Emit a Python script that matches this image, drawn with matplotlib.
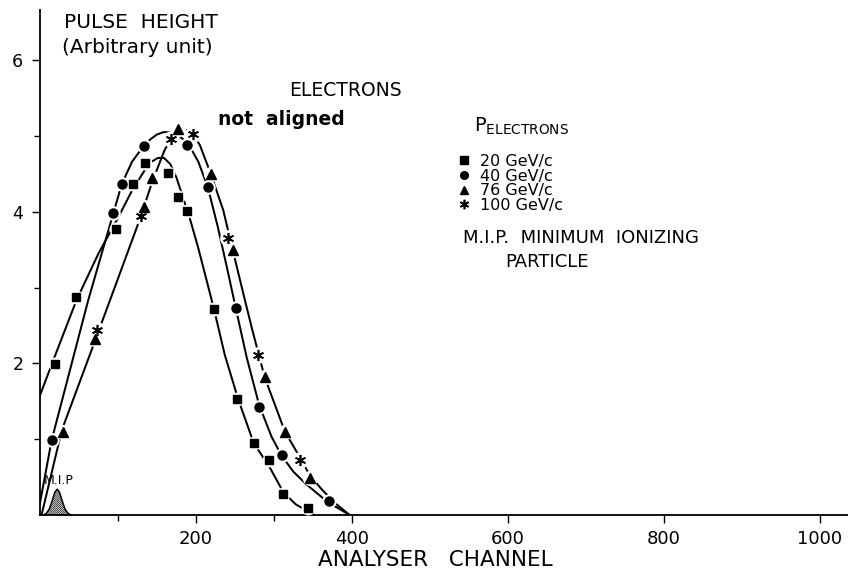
import matplotlib
matplotlib.use("Agg")
import matplotlib.pyplot as plt

# ---------------- data ----------------
# measured points
x_20 = [19, 46, 98, 119, 135, 164, 177, 188, 223, 253, 274, 294, 312, 343]
y_20 = [1.99, 2.88, 3.77, 4.37, 4.64, 4.51, 4.20, 4.01, 2.72, 1.53, 0.95, 0.72, 0.28, 0.09]

x_40 = [15, 94, 105, 133, 189, 215, 251, 281, 310, 370]
y_40 = [0.99, 3.98, 4.37, 4.87, 4.88, 4.33, 2.73, 1.43, 0.79, 0.18]

x_76 = [30, 71, 133, 143, 177, 219, 247, 288, 314, 346]
y_76 = [1.09, 2.32, 4.06, 4.44, 5.09, 4.50, 3.50, 1.82, 1.10, 0.49]

x_100 = [73, 129, 168, 196, 241, 280, 334]
y_100 = [2.44, 3.94, 4.96, 5.02, 3.65, 2.11, 0.73]

# hand-drawn curves (traced)
curve_20_x = [0, 20, 47, 75, 99, 119, 135, 143, 151, 159, 167, 175, 183, 193, 203, 213,
              223, 237, 254, 274, 295, 312, 328, 343, 352]
curve_20_y = [1.58, 2.12, 2.84, 3.45, 3.90, 4.30, 4.56, 4.66, 4.71, 4.71, 4.63, 4.45, 4.20,
              3.88, 3.52, 3.12, 2.72, 2.11, 1.53, 0.95, 0.62, 0.30, 0.14, 0.05, 0.0]

curve_40_x = [0, 15, 62, 94, 105, 118, 133, 142, 150, 158, 166, 174, 182, 190, 203, 215,
              228, 240, 251, 265, 281, 297, 310, 325, 342, 369, 397]
curve_40_y = [0.16, 0.99, 2.84, 3.98, 4.37, 4.66, 4.87, 4.96, 5.02, 5.05, 5.05, 5.02, 4.97,
              4.90, 4.66, 4.33, 3.80, 3.25, 2.73, 2.08, 1.45, 1.03, 0.78, 0.57, 0.40, 0.17, 0.0]

curve_76_x = [2, 28, 67, 90, 129, 144, 160, 169, 175, 179, 187, 195, 205, 219, 235, 247,
              260, 272, 288, 314, 335, 346, 362, 378, 397]
curve_76_y = [0.0, 1.12, 2.20, 2.84, 3.93, 4.40, 4.82, 4.97, 5.05, 5.08, 5.08, 5.04, 4.88,
              4.50, 4.02, 3.50, 2.95, 2.45, 1.82, 1.10, 0.73, 0.52, 0.33, 0.16, 0.0]

# minimum ionizing particle peak
x_mip = [4, 8, 12, 16, 19, 22, 25, 28, 32, 36, 40]
y_mip = [0.0, 0.02, 0.08, 0.20, 0.30, 0.34, 0.30, 0.20, 0.08, 0.02, 0.0]

x_major = [200, 400, 600, 800, 1000]
x_minor = [100, 300]
y_major = [2, 4, 6]
y_minor = [1, 3, 5]

legend_labels = ["20 GeV/c", "40 GeV/c", "76 GeV/c", "100 GeV/c"]

# ---------------- figure ----------------
W, H = 848, 576
plt.rcParams["font.family"] = ["DejaVu Sans"]
plt.rcParams["hatch.linewidth"] = 0.5
fig = plt.figure(figsize=(W / 100, H / 100), dpi=100)


def fx(x):
    return x / W


def fy(y):
    return 1 - y / H


ax = fig.add_axes([40 / W, 61 / H, 808 / W, 505 / H])
ax.set_xlim(0, 1036)
ax.set_ylim(0, 6.662)
for s in ["top", "right"]:
    ax.spines[s].set_visible(False)
for s in ["left", "bottom"]:
    ax.spines[s].set_linewidth(1.3)

ax.set_xticks(x_major)
ax.set_xticks(x_minor, minor=True)
ax.set_yticks(y_major)
ax.set_yticks(y_minor, minor=True)
ax.set_xticklabels([str(v) for v in x_major])
ax.set_yticklabels([str(v) for v in y_major])
ax.tick_params(which="major", direction="out", length=6, width=1.0, labelsize=13, pad=5)
ax.tick_params(which="minor", direction="out", length=4, width=1.0)
ax.tick_params(axis="y", which="major", pad=6, labelsize=12.5)

lw = 1.45
for cx, cy in [(curve_20_x, curve_20_y), (curve_40_x, curve_40_y), (curve_76_x, curve_76_y)]:
    ax.plot(cx, cy, color="black", lw=lw, zorder=2, solid_capstyle="round")

series = [
    (x_20, y_20, dict(marker="s", ms=6)),
    (x_40, y_40, dict(marker="o", ms=6.5)),
    (x_76, y_76, dict(marker="^", ms=7)),
    (x_100, y_100, dict(marker=(6, 2, 0), ms=8, mew=1.2)),
]
for xs, ys, st in series:
    ax.plot(xs, ys, ls="none", marker="o", ms=st["ms"] + 3, color="white", mec="white", zorder=3)
    ax.plot(xs, ys, ls="none", color="black", mec="black", zorder=4, **st)

ax.fill_between(x_mip, y_mip, 0, facecolor="white", edgecolor="black",
                hatch="\\" * 16, linewidth=1.1, zorder=2)

# ---------------- texts ----------------
fig.text(fx(64), fy(28), "PULSE  HEIGHT", fontsize=14.5, va="baseline", ha="left")
fig.text(fx(62), fy(53), "(Arbitrary unit)", fontsize=14.5, va="baseline", ha="left")
fig.text(fx(289), fy(96), "ELECTRONS", fontsize=13.5, va="baseline", ha="left")
fig.text(fx(218), fy(125), "not  aligned", fontsize=13.5, fontweight="bold",
         va="baseline", ha="left")
fig.text(fx(44), fy(484), "M.I.P", fontsize=9, va="baseline", ha="left")

fig.text(fx(474), fy(132), r"P$_{\mathregular{ELECTRONS}}$", fontsize=14, va="baseline", ha="left")

handles = []
for xs, ys, st in series:
    h, = ax.plot([], [], ls="none", color="black", mec="black",
                 **{k: (v * 0.85 if k == "ms" else v) for k, v in st.items()})
    handles.append(h)
leg = fig.legend(handles, legend_labels, loc="upper left",
                 bbox_to_anchor=(fx(458), fy(154)), frameon=False, fontsize=11.5,
                 handlelength=0.8, handletextpad=0.6, labelspacing=-0.02,
                 borderpad=0, borderaxespad=0)

fig.text(fx(463), fy(243), "M.I.P.  MINIMUM  IONIZING", fontsize=13, va="baseline", ha="left")
fig.text(fx(505), fy(267), "PARTICLE", fontsize=13, va="baseline", ha="left")

ax.set_xlabel("ANALYSER   CHANNEL", fontsize=15.5)
ax.xaxis.set_label_coords((435 - 40) / 808, (515 - 550) / 505)

fig.savefig("out.png", dpi=100)
